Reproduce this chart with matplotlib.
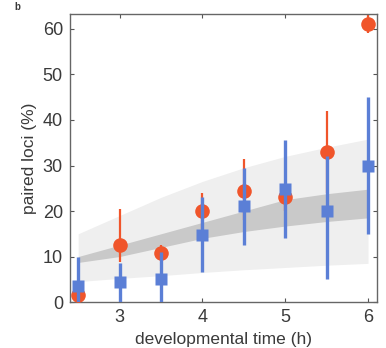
import numpy as np
import matplotlib.pyplot as plt

plt.rcParams['font.family'] = ['Liberation Sans', 'DejaVu Sans']

time_h = np.array([2.5, 3.0, 3.5, 4.0, 4.5, 5.0, 5.5, 6.0])

# measured, red circles
red_val = np.array([1.5, 12.5, 10.7, 20.0, 24.5, 23.0, 33.0, 61.0])
red_lo = np.array([0.0, 8.8, 9.0, 16.0, 18.0, 20.0, 24.0, 59.0])
red_hi = np.array([3.0, 20.5, 12.5, 24.0, 31.5, 26.0, 42.0, 63.0])

# measured, blue squares
blue_val = np.array([3.5, 4.3, 5.0, 14.8, 21.0, 24.8, 20.0, 30.0])
blue_lo = np.array([0.0, 0.0, 0.0, 6.5, 12.5, 14.0, 5.0, 15.0])
blue_hi = np.array([10.0, 8.5, 11.0, 23.0, 29.5, 35.5, 32.0, 45.0])

# model bands
light_lo = np.array([4.5, 5.2, 5.8, 6.5, 7.1, 7.6, 8.1, 8.5])
light_hi = np.array([15.0, 19.0, 23.0, 26.5, 29.5, 32.0, 34.0, 35.8])
dark_lo = np.array([8.7, 10.0, 12.0, 14.0, 15.5, 16.7, 17.7, 18.5])
dark_hi = np.array([10.0, 12.5, 15.0, 17.5, 20.0, 22.5, 23.8, 24.8])

red = '#f0552b'
blue = '#5b7fd6'
txt = '#3a3a3a'

fig = plt.figure(figsize=(3.86, 3.48), dpi=100)
ax = fig.add_axes([0.181, 0.132, 0.796, 0.828])

ax.fill_between(time_h, light_lo, light_hi, color='#efefef', lw=0, zorder=1)
ax.fill_between(time_h, dark_lo, dark_hi, color='#c9c9c9', lw=0, zorder=1.5)

ax.vlines(time_h, red_lo, red_hi, color=red, lw=1.6, zorder=2)
ax.plot(time_h, red_val, 'o', color=red, ms=10.5, mec='none', zorder=3)
ax.vlines(time_h, blue_lo, blue_hi, color=blue, lw=2.4, zorder=4)
ax.plot(time_h, blue_val, 's', color=blue, ms=8.5, mec='none', zorder=5)

ax.set_xlim(2.4, 6.11)
ax.set_ylim(0, 63.3)
ax.set_xticks([3, 4, 5, 6])
ax.set_yticks(range(0, 61, 10))
ax.tick_params(direction='in', top=True, right=True, length=3, width=0.8,
               labelsize=13, colors='#555555', labelcolor=txt, pad=5)
for s in ax.spines.values():
    s.set_color('#666666')
    s.set_linewidth(1.0)

ax.set_xlabel('developmental time (h)', fontsize=12.5, color=txt, labelpad=4)
ax.set_ylabel('paired loci (%)', fontsize=12.5, color=txt, labelpad=4)

fig.text(0.045, 0.995, 'b', fontsize=7, fontweight='bold', color=txt,
         ha='center', va='top')

fig.savefig('out.png', dpi=100)
